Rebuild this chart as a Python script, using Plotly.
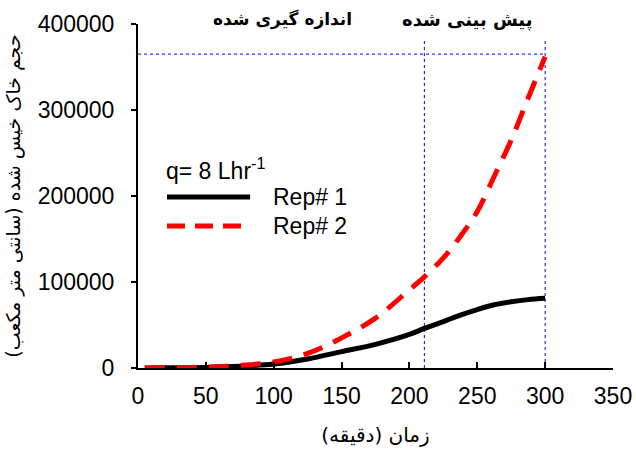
import plotly.graph_objects as go

# Data (time in minutes, wetted soil volume in cm^3)
time_min = [5, 25, 50, 75, 100, 125, 150, 175, 200, 211, 225, 237.5, 250, 262.5, 275, 287.5, 300]
rep1 = [0, 200, 700, 2000, 4600, 10500, 19000, 27500, 39000, 46000, 54000, 61500, 68000, 73500, 77000, 79500, 81000]
rep2 = [0, 300, 1000, 3000, 7000, 17000, 35000, 58000, 91000, 106000, 128000, 153000, 182000, 223000, 265000, 314000, 362000]

series_names = ["Rep# 1", "Rep# 2"]
legend_title = "q= 8 Lhr<sup>-1</sup>"
x_title = "زمان (دقیقه)"
y_title = "حجم خاک خیس شده (سانتی متر مکعب)"
label_measured = "اندازه گیری شده"
label_predicted = "پیش بینی شده"

ref_x = [211, 300]
ref_x_top = 383000
ref_y = 365000
x_ticks = [0, 50, 100, 150, 200, 250, 300, 350]
y_ticks = [0, 100000, 200000, 300000, 400000]

FONT = "Liberation Sans, Arial, sans-serif"
PFONT = "DejaVu Sans, sans-serif"
DASH = "20px,12px"

fig = go.Figure()
fig.add_trace(go.Scatter(x=time_min, y=rep1, mode="lines", name=series_names[0],
                         line=dict(color="black", width=5, shape="spline"), showlegend=False))
fig.add_trace(go.Scatter(x=time_min, y=rep2, mode="lines", name=series_names[1],
                         line=dict(color="red", width=5, dash=DASH, shape="spline"), showlegend=False))

# dotted reference lines
for rx in ref_x:
    fig.add_shape(type="line", x0=rx, x1=rx, y0=0, y1=ref_x_top, xref="x", yref="y",
                  line=dict(color="blue", width=1, dash="dot"), layer="below")
fig.add_shape(type="line", x0=0, x1=ref_x[1], y0=ref_y, y1=ref_y, xref="x", yref="y",
              line=dict(color="blue", width=1, dash="dot"), layer="below")

# manual legend
fig.add_annotation(x=0.055, y=0.578, xref="paper", yref="paper", text=legend_title, showarrow=False,
                   xanchor="left", yanchor="middle", font=dict(family=FONT, size=23, color="black"))
legend_rows = [(0.497, dict(color="black", width=5)), (0.413, dict(color="red", width=5, dash="18px,10px"))]
for (yy, ln), nm in zip(legend_rows, series_names):
    fig.add_shape(type="line", x0=0.061, x1=0.236, y0=yy, y1=yy, xref="paper", yref="paper", line=ln)
    fig.add_annotation(x=0.28, y=yy, xref="paper", yref="paper", text=nm, showarrow=False,
                       xanchor="left", yanchor="middle", font=dict(family=FONT, size=23, color="black"))

# top labels
fig.add_annotation(x=0.305, y=1.012, xref="paper", yref="paper", text="<b>" + label_measured + "</b>",
                   showarrow=False, xanchor="center", yanchor="middle",
                   font=dict(family=PFONT, size=17, color="black"))
fig.add_annotation(x=0.693, y=1.012, xref="paper", yref="paper", text="<b>" + label_predicted + "</b>",
                   showarrow=False, xanchor="center", yanchor="middle",
                   font=dict(family=PFONT, size=18, color="black"))

fig.update_layout(
    width=636, height=452,
    margin=dict(l=138, r=23, t=24, b=84),
    paper_bgcolor="white", plot_bgcolor="white",
    font=dict(family=FONT, size=23, color="black"),
    showlegend=False,
)
fig.update_xaxes(range=[0, 350], tickvals=x_ticks, ticks="inside", ticklen=6, tickcolor="black",
                 tickwidth=1.5, showline=True, linecolor="black", linewidth=2, showgrid=False,
                 zeroline=False, tickfont=dict(family=FONT, size=23), ticklabelstandoff=6,
                 automargin=False,
                 title=dict(text=x_title, font=dict(family=PFONT, size=20), standoff=20))
fig.update_yaxes(range=[0, 400000], tickvals=y_ticks, tickformat="d", ticks="outside", ticklen=5,
                 tickcolor="black", tickwidth=1.5, showline=True, linecolor="black", linewidth=2,
                 showgrid=False, zeroline=False, tickfont=dict(family=FONT, size=23),
                 ticklabelstandoff=12, automargin=False,
                 title=dict(text=y_title, font=dict(family=PFONT, size=19), standoff=12))

fig.write_html("out.html")
